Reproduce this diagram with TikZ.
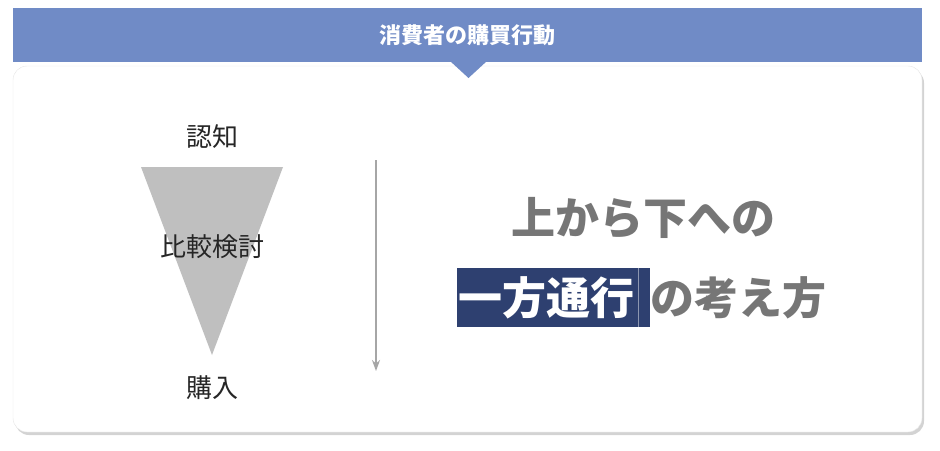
\documentclass[tikz,border=0pt]{standalone}
\usepackage{fontspec}
\setmainfont{Noto Sans CJK JP}
\usetikzlibrary{positioning,shadows,arrows.meta}
\definecolor{hdrblue}{RGB}{112,139,198}
\definecolor{navybox}{RGB}{46,64,112}
\definecolor{biggray}{RGB}{118,118,118}
\definecolor{funnelgray}{RGB}{191,191,191}
\definecolor{flowgray}{RGB}{166,166,166}
\tikzset{
    stagetext/.style={font=\fontsize{26}{30}\selectfont, text=black!85},
    bigtext/.style={font=\fontsize{44}{50}\selectfont\bfseries, text=biggray, inner sep=0pt},
    hlbox/.style={fill=navybox, minimum width=193pt, minimum height=59pt, inner sep=0pt},
}

\begin{document}
\begin{tikzpicture}[x=1pt,y=-1pt]
    \useasboundingbox (0,0) rectangle (940,450);
    % card
    \draw[draw=black!10, fill=white, rounded corners=14pt,
        drop shadow={shadow xshift=2pt, shadow yshift=-3pt, opacity=0.35}] (13,66) rectangle (922,432);
    % header
    \node[fill=hdrblue, minimum width=909pt, minimum height=54pt, inner sep=0pt,
        font=\fontsize{22}{26}\selectfont\bfseries, text=white] (head) at (467.5,35) {消費者の購買行動};
    \fill[hdrblue] (450,61) -- (487,61) -- (468.5,78) -- cycle;
    % funnel
    \fill[funnelgray] (141,167) -- (283,167) -- (212,355) -- cycle;
    \foreach \yy/\txt [count=\k] in {137/認知, 247/比較検討, 388/購入}
        {
        \node[stagetext] (stage\k) at (212,\yy) {\txt};
        }
    % flow arrow
    \coordinate (flowtop) at (376,160);
    \coordinate (flowend) at (376,371);
    \draw[flowgray, line width=1.8pt, -{Stealth[length=11pt,width=8pt]}] (flowtop) -- (flowend);
    % message
    \node[bigtext] (line1) at (643,218) {上から下への};
    \node[hlbox] (hl) at (553,297.5) {};
    \node[bigtext, text=white] (hlword) at (546.5,297.5) {一方通行};
    \draw[navybox!55!white, line width=0.8pt] ([xshift=-11pt]hl.north east) -- ([xshift=-11pt]hl.south east);
    \node[bigtext, right=1pt of hl] (rest) {の考え方};
\end{tikzpicture}
\end{document}
